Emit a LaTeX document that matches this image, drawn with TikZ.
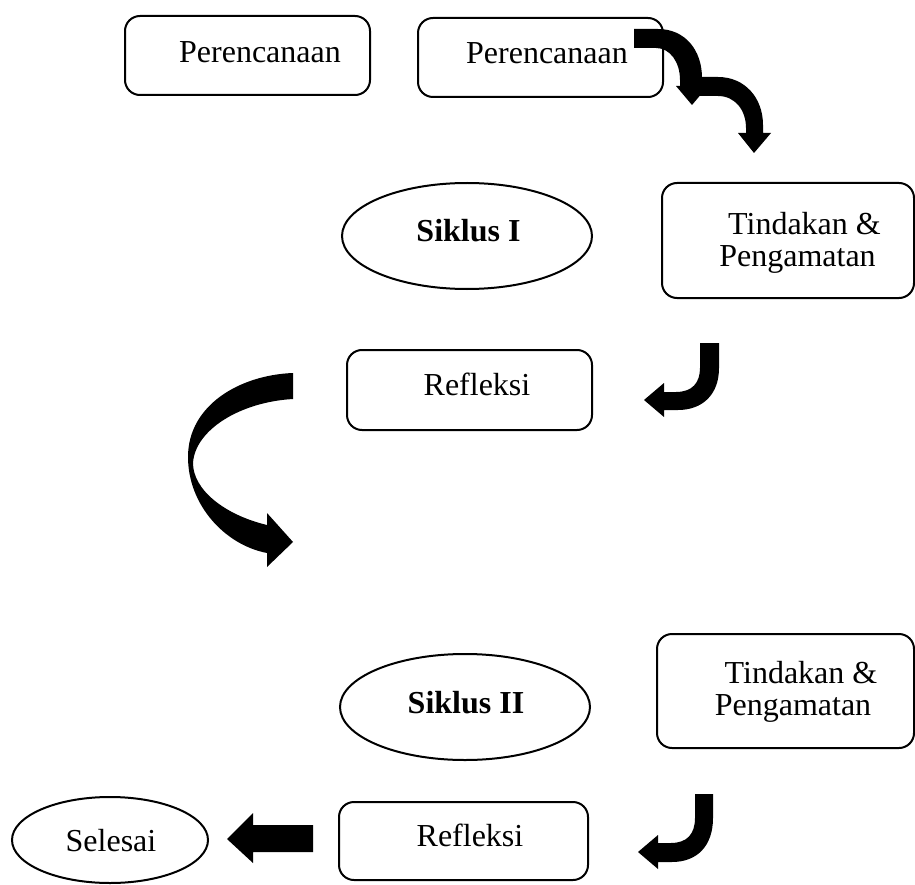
\documentclass[tikz,border=0pt]{standalone}
\usepackage{fontspec}
\setmainfont{Liberation Serif}
\usetikzlibrary{shapes.geometric}
\begin{document}
\begin{tikzpicture}[x=1pt,y=-1pt,
  box/.style={draw, line width=2pt, rounded corners=15pt, inner sep=0pt},
  oval/.style={draw, ellipse, line width=2pt, inner sep=0pt},
  txt/.style={anchor=base, inner sep=0pt, font=\fontsize{32}{32}\selectfont},
  btxt/.style={txt, font=\fontsize{32}{32}\selectfont\bfseries},
  blk/.style={fill=black, draw=none}]
\useasboundingbox (0,0) rectangle (915,885);
% boxes
\node[box, minimum width=245pt, minimum height=79pt] (p1) at (247.5,55.5) {};
\node[txt] (p1t) at (260,63) {Perencanaan};
\node[box, minimum width=245pt, minimum height=79pt] (p2) at (540.5,57.5) {};
\node[txt] (p2t) at (547,64) {Perencanaan};
\node[box, minimum width=252pt, minimum height=115pt] (t1) at (788,240.5) {};
\node[txt] (t1a) at (804.5,235) {Tindakan \&};
\node[txt] (t1b) at (797.5,267) {Pengamatan};
\node[oval, minimum width=250pt, minimum height=106pt] (s1) at (467,236) {};
\node[btxt] (s1t) at (468.5,242) {Siklus I};
\node[box, minimum width=245pt, minimum height=80pt] (r1) at (469.5,390) {};
\node[txt] (r1t) at (477,395) {Refleksi};
\node[oval, minimum width=250pt, minimum height=106pt] (s2) at (465,707) {};
\node[btxt] (s2t) at (466,713) {Siklus II};
\node[box, minimum width=257pt, minimum height=114pt] (t2) at (785.5,691) {};
\node[txt] (t2a) at (801,683) {Tindakan \&};
\node[txt] (t2b) at (793,715) {Pengamatan};
\node[box, minimum width=249pt, minimum height=78pt] (r2) at (463.5,841) {};
\node[txt] (r2t) at (470,846) {Refleksi};
\node[oval, minimum width=196pt, minimum height=86pt] (sel) at (110,840) {};
\node[txt] (selt) at (111,851) {Selesai};
% block arrows
\fill[blk] (634,29) -- (658,29) .. controls (685,29) and (702,50) .. (702,78) -- (702,86) -- (708,86) -- (692,105) -- (676,86) -- (680,86) -- (680,80) .. controls (680,62) and (670,48) .. (656,48) -- (634,48) -- cycle;
\fill[blk] (697,77) -- (718,77) .. controls (745,77) and (763,98) .. (763,125) -- (763,133) -- (771,133) -- (754,153) -- (738,133) -- (746,133) -- (746,128) .. controls (746,110) and (735,96) .. (718,96) -- (697,96) -- cycle;
\fill[blk] (700,343) -- (719,343) -- (719,368) .. controls (719,395) and (702,410) .. (678,410) -- (664,410) -- (664,417) -- (644,400) -- (664,383) -- (664,392) -- (676,392) .. controls (692,392) and (700,383) .. (700,368) -- cycle;
\fill[blk] (293,373) .. controls (240,375) and (188,405) .. (188,457) .. controls (188,505) and (225,545) .. (267,553) -- (267,567) -- (293,542) -- (267,513) -- (267,525) .. controls (225,515) and (193,490) .. (193,463) .. controls (195,430) and (240,402) .. (293,399) -- cycle;
\fill[blk] (695,794) -- (713,794) -- (713,818) .. controls (713,846) and (697,862) .. (672,862) -- (658,862) -- (658,869) -- (638,852) -- (658,835) -- (658,843) -- (671,843) .. controls (687,843) and (695,834) .. (695,818) -- cycle;
\fill[blk] (313,825) -- (253,825) -- (253,813) -- (227,839) -- (253,863) -- (253,852) -- (313,852) -- cycle;
\end{tikzpicture}
\end{document}
